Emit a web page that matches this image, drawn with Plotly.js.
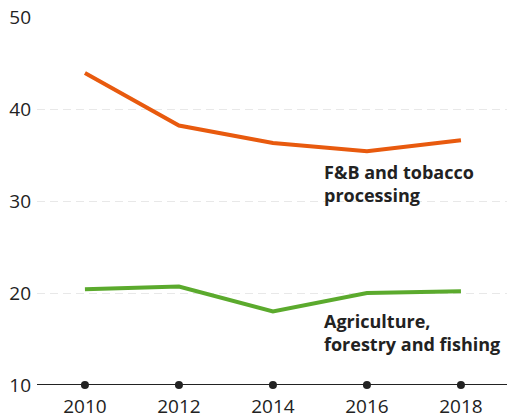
<!DOCTYPE html>
<html><head><meta charset="utf-8">
<script src="https://cdn.plot.ly/plotly-3.0.1.min.js"></script>
<style>html,body{margin:0;padding:0;background:#fff}#chart{width:507px;height:419px}</style>
</head><body><div id="chart"></div>
<script>
const years = [2010, 2012, 2014, 2016, 2018];
const fbTobacco = [43.9, 38.2, 36.3, 35.4, 36.6];
const agriculture = [20.4, 20.7, 18.0, 20.0, 20.2];
const yTicks = [10, 20, 30, 40, 50];
const fbLabel = 'F&B and tobacco<br>processing';
const agriLabel = 'Agriculture,<br>forestry and fishing';

const traces = [
  {x: years, y: fbTobacco, mode: 'lines', line: {color: '#E85A0E', width: 4}, hoverinfo: 'skip'},
  {x: years, y: agriculture, mode: 'lines', line: {color: '#5BAA2D', width: 4}, hoverinfo: 'skip'},
  {x: years, y: years.map(() => 10), mode: 'markers', marker: {color: '#222', size: 8}, cliponaxis: false, hoverinfo: 'skip'}
];
const layout = {
  width: 507, height: 419,
  margin: {l: 37, r: 0, t: 17, b: 34},
  showlegend: false,
  paper_bgcolor: '#fff', plot_bgcolor: '#fff',
  font: {family: 'Open Sans, sans-serif', color: '#222', size: 19},
  xaxis: {range: [2008.98, 2018.98], tickvals: years, ticktext: years.map(String), showgrid: false, zeroline: false, showline: false, ticks: '', ticklabelstandoff: 8, tickfont: {size: 19, color: '#222'}},
  yaxis: {range: [10, 50], tickvals: yTicks, showgrid: true, gridcolor: '#e8e8e8', griddash: '8px,5px', gridwidth: 1, zeroline: false, ticks: '', ticklabelstandoff: 5, tickfont: {size: 19, color: '#222'}},
  shapes: [{type: 'line', xref: 'paper', x0: 0, x1: 1, yref: 'y', y0: 10, y1: 10, line: {color: '#222', width: 2}, layer: 'above'}],
  annotations: [
    {x: 2015.04, y: 31.9, xref: 'x', yref: 'y', text: '<b>' + fbLabel + '</b>', showarrow: false, xanchor: 'left', yanchor: 'middle', align: 'left', font: {size: 18, color: '#222'}},
    {x: 2015.04, y: 15.7, xref: 'x', yref: 'y', text: '<b>' + agriLabel + '</b>', showarrow: false, xanchor: 'left', yanchor: 'middle', align: 'left', font: {size: 18, color: '#222'}}
  ]
};
Plotly.newPlot('chart', traces, layout, {displayModeBar: false, staticPlot: true});
</script></body></html>
